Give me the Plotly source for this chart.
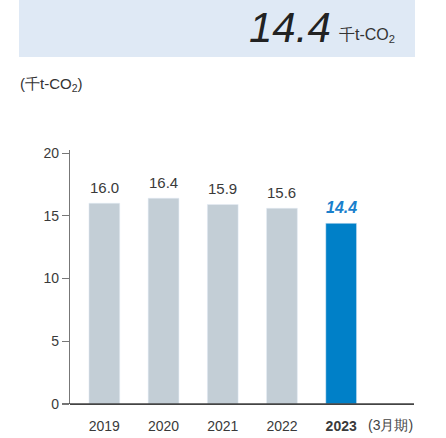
import plotly.graph_objects as go

years = ["2019", "2020", "2021", "2022", "2023"]
tick_text = ["2019", "2020", "2021", "2022", "<b>2023</b>"]
values = [16.0, 16.4, 15.9, 15.6, 14.4]
bar_colors = ["#c3ced6", "#c3ced6", "#c3ced6", "#c3ced6", "#0080c8"]
label_text = ["16.0", "16.4", "15.9", "15.6", "<b><i>14.4</i></b>"]
label_colors = ["#3a3a3a", "#3a3a3a", "#3a3a3a", "#3a3a3a", "#1a80cc"]
label_sizes = [15, 15, 15, 15, 16]
headline_value = "14.4"
unit = "千t-CO<sub>2</sub>"

W, H = 446, 438
L, R, T, B = 70, 32, 150, 34
PW, PH = W - L - R, H - T - B

def px(x):
    return (x - L) / PW

def py(y):
    return (H - B - y) / PH

FONT = "Liberation Sans, Arial, sans-serif"

fig = go.Figure()
fig.add_trace(go.Bar(
    x=list(range(len(years))), y=values, marker_color=bar_colors,
    width=0.52, hoverinfo="skip",
))

annotations = []
for i, (v, t, c, s) in enumerate(zip(values, label_text, label_colors, label_sizes)):
    annotations.append(dict(x=i, y=v, xref="x", yref="y", text=t, showarrow=False,
                            yanchor="bottom", yshift=5,
                            font=dict(family=FONT, size=s, color=c)))

annotations += [
    dict(x=px(333), y=py(27), xref="paper", yref="paper", text="<i>" + headline_value + "</i>",
         showarrow=False, xanchor="right", yanchor="middle",
         font=dict(family=FONT, size=42, color="#222222")),
    dict(x=px(337), y=py(36), xref="paper", yref="paper", text=unit,
         showarrow=False, xanchor="left", yanchor="middle",
         font=dict(family=FONT, size=16, color="#333333")),
    dict(x=px(18), y=py(84), xref="paper", yref="paper", text="(千t-CO<sub>2</sub>)",
         showarrow=False, xanchor="left", yanchor="middle",
         font=dict(family=FONT, size=15, color="#333333")),
    dict(x=px(415), y=py(425), xref="paper", yref="paper", text="(3月期)",
         showarrow=False, xanchor="right", yanchor="middle",
         font=dict(family=FONT, size=14, color="#444444")),
]

fig.update_layout(
    width=W, height=H, margin=dict(l=L, r=R, t=T, b=B),
    paper_bgcolor="white", plot_bgcolor="white",
    showlegend=False, annotations=annotations,
    shapes=[dict(type="rect", xref="paper", yref="paper",
                 x0=px(19), x1=px(415), y0=py(57), y1=py(-2),
                 fillcolor="#dfe9f5", line_width=0, layer="below")],
    xaxis=dict(range=[-0.58, 5.23], tickvals=list(range(len(years))), ticktext=tick_text,
               showgrid=False, zeroline=False, showline=False, ticks="",
               ticklabelstandoff=12, automargin=False,
               tickfont=dict(family=FONT, size=14, color="#3a3a3a")),
    yaxis=dict(range=[0, 20.24], tickvals=[0, 5, 10, 15, 20], showgrid=False,
               zeroline=True, zerolinecolor="#444444", zerolinewidth=1.3,
               showline=True, linecolor="#777777", linewidth=1.3, automargin=False,
               ticks="outside", ticklen=7, tickcolor="#777777", tickwidth=1.3,
               tickfont=dict(family=FONT, size=14, color="#3a3a3a")),
)
# extend the baseline to the right edge
fig.add_shape(type="line", xref="paper", yref="y", x0=px(62), x1=px(414), y0=0, y1=0,
              line=dict(color="#444444", width=1.3))

fig.write_html("out.html")
